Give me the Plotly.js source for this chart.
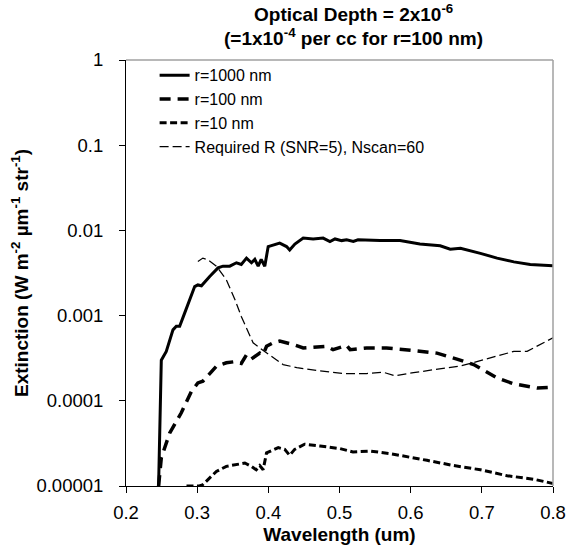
<!DOCTYPE html>
<html>
<head>
<meta charset="utf-8">
<script src="https://cdn.plot.ly/plotly-3.0.1.min.js"></script>
<style>html,body{margin:0;padding:0;background:#fff;}#chart{width:571px;height:550px;}</style>
</head>
<body>
<div id="chart"></div>
<script>
// r = 1000 nm
var x1000 = [0.2458,0.2496,0.2566,0.266,0.2707,0.2754,0.2824,0.2894,0.2965,0.301,0.306,0.3176,0.3293,0.3363,0.3458,0.3552,0.362,0.3693,0.3763,0.381,0.3857,0.390,0.395,0.3998,0.4068,0.416,0.4256,0.430,0.4373,0.449,0.463,0.477,0.4866,0.4937,0.503,0.510,0.5194,0.526,0.557,0.585,0.613,0.6415,0.6556,0.670,0.698,0.7214,0.745,0.768,0.80];
var y1000 = [1.0e-5,3.0e-4,3.8e-4,6.8e-4,7.5e-4,7.5e-4,1.07e-3,1.55e-3,2.19e-3,2.29e-3,2.24e-3,2.88e-3,3.63e-3,3.8e-3,3.8e-3,4.17e-3,3.98e-3,4.73e-3,4.17e-3,4.57e-3,3.8e-3,4.57e-3,3.8e-3,6.46e-3,6.76e-3,7.08e-3,6.46e-3,5.89e-3,6.92e-3,8.13e-3,7.94e-3,8.13e-3,7.41e-3,7.94e-3,7.59e-3,7.76e-3,7.41e-3,7.76e-3,7.59e-3,7.59e-3,6.92e-3,6.61e-3,6.03e-3,6.17e-3,5.37e-3,4.73e-3,4.27e-3,3.98e-3,3.85e-3];

// r = 100 nm
var x100 = [0.2458,0.2496,0.2613,0.2777,0.292,0.301,0.308,0.327,0.341,0.353,0.362,0.3693,0.376,0.388,0.3927,0.3975,0.4068,0.416,0.435,0.449,0.482,0.491,0.510,0.515,0.538,0.566,0.604,0.637,0.665,0.6885,0.7214,0.745,0.778,0.80];
var y100 = [1.0e-5,2.14e-5,4.17e-5,7.24e-5,1.29e-4,1.62e-4,1.70e-4,2.54e-4,2.79e-4,2.88e-4,2.75e-4,3.47e-4,3.09e-4,3.63e-4,3.47e-4,4.37e-4,4.79e-4,5.01e-4,4.57e-4,4.17e-4,4.37e-4,3.98e-4,4.47e-4,3.98e-4,4.17e-4,4.17e-4,3.89e-4,3.63e-4,3.09e-4,2.66e-4,1.86e-4,1.58e-4,1.41e-4,1.45e-4];

// r = 10 nm
var x10 = [0.285,0.303,0.3075,0.327,0.341,0.353,0.367,0.376,0.383,0.388,0.3927,0.3975,0.414,0.423,0.430,0.437,0.451,0.4725,0.5007,0.519,0.543,0.571,0.5946,0.623,0.660,0.698,0.7355,0.773,0.80];
var y10 = [1.0e-5,1.0e-5,1.03e-5,1.48e-5,1.70e-5,1.78e-5,1.86e-5,1.70e-5,1.55e-5,1.74e-5,1.55e-5,2.45e-5,2.82e-5,2.69e-5,2.29e-5,2.69e-5,3.09e-5,2.95e-5,2.75e-5,2.51e-5,2.57e-5,2.40e-5,2.19e-5,2.0e-5,1.74e-5,1.55e-5,1.32e-5,1.20e-5,1.07e-5];

// Required R (SNR=5), Nscan=60
var xReq = [0.301,0.308,0.315,0.327,0.341,0.353,0.362,0.3716,0.3786,0.388,0.402,0.4208,0.44,0.4538,0.4725,0.5053,0.538,0.5617,0.578,0.604,0.637,0.670,0.684,0.712,0.745,0.7636,0.7824,0.80];
var yReq = [4.32e-3,4.73e-3,4.52e-3,3.80e-3,2.63e-3,1.55e-3,9.77e-4,6.31e-4,4.79e-4,4.17e-4,3.47e-4,2.66e-4,2.45e-4,2.34e-4,2.24e-4,2.09e-4,2.09e-4,2.16e-4,1.97e-4,2.14e-4,2.34e-4,2.57e-4,2.75e-4,3.16e-4,3.80e-4,3.80e-4,4.57e-4,5.50e-4];

var seriesNames = ['r=1000 nm','r=100 nm','r=10 nm','Required R (SNR=5), Nscan=60'];
var titleLines = ['<b>Optical Depth = 2x10<sup>-6</sup></b>', '<b>(=1x10<sup>-4</sup> per cc for r=100 nm)</b>'];
var yTickVals = [1e-5,1e-4,1e-3,1e-2,1e-1,1];
var yTickText = ['0.00001','0.0001','0.001','0.01','0.1','1'];
var xTickVals = [0.2,0.3,0.4,0.5,0.6,0.7,0.8];
var xTickText = ['0.2','0.3','0.4','0.5','0.6','0.7','0.8'];

var FONT = 'Liberation Sans, Arial, Helvetica, sans-serif';

var traces = [
  {x:x1000, y:y1000, name:seriesNames[0], mode:'lines', line:{color:'#000', width:3}},
  {x:x100, y:y100, name:seriesNames[1], mode:'lines', line:{color:'#000', width:3.5, dash:'11px,7px'}},
  {x:x10, y:y10, name:seriesNames[2], mode:'lines', line:{color:'#000', width:3, dash:'7px,3.5px'}},
  {x:xReq, y:yReq, name:seriesNames[3], mode:'lines', line:{color:'#000', width:1.25, dash:'9px,4px'}}
];

var titleFont = {family:FONT, size:19, color:'#000'};

var layout = {
  width:571, height:550,
  margin:{l:126, r:18, t:60, b:64},
  paper_bgcolor:'#fff', plot_bgcolor:'#fff',
  font:{family:FONT, color:'#000', size:18},
  showlegend:true,
  annotations:[
    {text:titleLines[0], xref:'paper', yref:'paper', x:0.533, y:1.111, xanchor:'center', yanchor:'middle', showarrow:false, font:titleFont},
    {text:titleLines[1], xref:'paper', yref:'paper', x:0.533, y:1.053, xanchor:'center', yanchor:'middle', showarrow:false, font:titleFont}
  ],
  legend:{x:0.067, y:1.004, xanchor:'left', yanchor:'top', bgcolor:'rgba(0,0,0,0)', font:{family:FONT, size:16, color:'#000'}},
  xaxis:{range:[0.2,0.8], tickvals:xTickVals, ticktext:xTickText, ticks:'outside', ticklen:6, tickcolor:'#000',
         showline:true, linecolor:'#000', linewidth:1, showgrid:false, zeroline:false,
         tickfont:{family:FONT, size:18.5, color:'#000'}, ticklabelstandoff:4,
         title:{text:'<b>Wavelength (um)</b>', font:titleFont, standoff:5}},
  yaxis:{type:'log', range:[-5,0], tickvals:yTickVals, ticktext:yTickText, ticks:'outside', ticklen:6, tickcolor:'#000',
         showline:true, linecolor:'#000', linewidth:1, showgrid:false, zeroline:false,
         tickfont:{family:FONT, size:18.5, color:'#000'}, ticklabelstandoff:12,
         title:{text:'<b>Extinction (W m<sup>-2</sup> µm<sup>-1</sup> str<sup>-1</sup>)</b>', font:titleFont, standoff:2}},
  shapes:[
    {type:'line', xref:'paper', yref:'paper', x0:0, x1:1, y0:1, y1:1, line:{color:'#a0a0a0', width:1.5}},
    {type:'line', xref:'paper', yref:'paper', x0:1, x1:1, y0:0, y1:1, line:{color:'#a0a0a0', width:1.5}}
  ]
};

Plotly.newPlot('chart', traces, layout, {displayModeBar:false, staticPlot:true});
</script>
</body>
</html>
